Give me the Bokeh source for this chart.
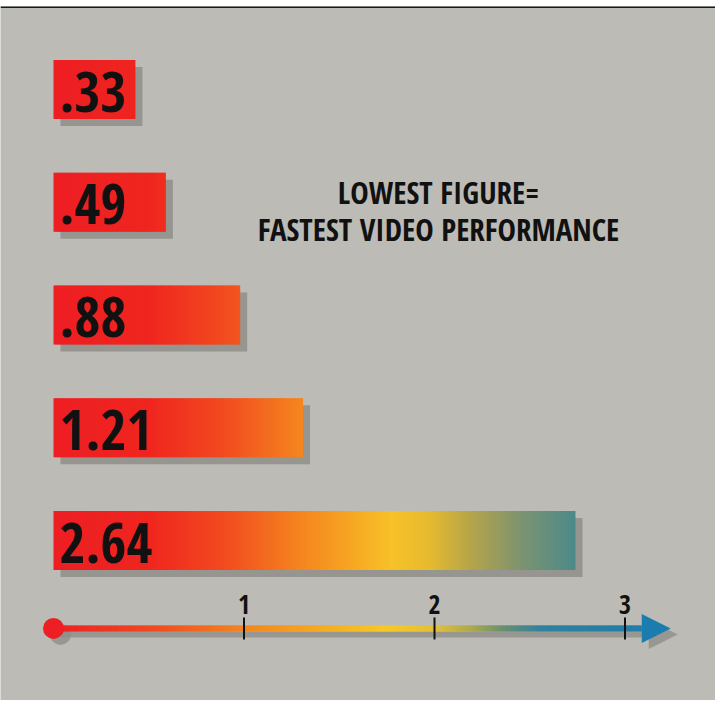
import numpy as np
from bokeh.plotting import figure
from bokeh.models import Range1d, ColumnDataSource, Label, Arrow, NormalHead, Span
from bokeh.core.properties import value
from bokeh.embed import file_html
from bokeh.resources import INLINE

# ---- data ----
labels = [".33", ".49", ".88", "1.21", "2.64"]
values = [0.33, 0.49, 0.88, 1.21, 2.64]
tick_values = [1, 2, 3]
tick_labels = ["1", "2", "3"]
title_lines = ["LOWEST FIGURE=", "FASTEST VIDEO PERFORMANCE"]

# ---- style ----
W, H = 715, 700
TOP = 6                      # white strip above the panel
BG = "#bcbbb5"
SHADOW = "#8f8e89"
FONT_NAME = "'Open Sans Condensed', 'Roboto Condensed', sans-serif"
FONT = value(FONT_NAME)
UX = 190.5                   # px per x unit
UY = 112.75                  # px per row
ZERO_PX = 53
x0 = -ZERO_PX / UX
y_top = -(89 - TOP) / UY
BAR_H = 59 / UY
LABEL_PAD = 0.10
STEP = 0.01
SH_DX, SH_DY = 7 / UX, 7 / UY

bar_stops = [(0.0, "#ee1f24"), (0.5, "#f0261f"), (0.9, "#f24c1f"), (1.3, "#f5861f"),
             (1.78, "#f8c228"), (1.97, "#e6bb30"), (2.2, "#b4a44c"), (2.45, "#7e9470"),
             (2.75, "#4a8a8c")]
axis_stops = [(0.0, "#ee2124"), (0.5, "#f0481f"), (1.0, "#f3861f"), (1.5, "#f6b423"),
              (1.73, "#f8c826"), (2.0, "#e4c03a"), (2.2, "#a8a850"), (2.35, "#6a9070"),
              (2.56, "#2f82a0"), (3.3, "#1b7cae")]


def hx(c):
    return np.array([int(c[i:i + 2], 16) for i in (1, 3, 5)], dtype=float)


def grad(stops, x):
    xs = [s[0] for s in stops]
    cols = np.array([hx(s[1]) for s in stops])
    r = np.interp(x, xs, cols[:, 0]); g = np.interp(x, xs, cols[:, 1]); b = np.interp(x, xs, cols[:, 2])
    return ["#%02x%02x%02x" % (int(a), int(bb), int(cc)) for a, bb, cc in zip(r, g, b)]


p = figure(width=W, height=H, output_backend="svg", toolbar_location=None,
           x_range=Range1d(x0, x0 + W / UX), y_range=Range1d(y_top + (H - TOP) / UY, y_top),
           min_border=0, min_border_top=TOP, background_fill_color=BG, border_fill_color="white",
           outline_line_color=None)
p.axis.visible = False
p.grid.visible = False
p.add_layout(Span(location=y_top, dimension="width", line_color="#1a1a1a", line_width=3))

ys = list(range(len(values)))

# bar shadows
p.quad(left=[SH_DX] * len(values), right=[v + LABEL_PAD + SH_DX for v in values],
       top=[y - BAR_H / 2 + SH_DY for y in ys], bottom=[y + BAR_H / 2 + SH_DY for y in ys],
       fill_color=SHADOW, fill_alpha=0.85, line_color=None)

# gradient bars (thin slices)
L, R, T, B, C = [], [], [], [], []
for y, v in zip(ys, values):
    end = v + LABEL_PAD
    xs = np.arange(0, end, STEP)
    rights = np.minimum(xs + STEP * 1.6, end)
    L += list(xs); R += list(rights)
    T += [y - BAR_H / 2] * len(xs); B += [y + BAR_H / 2] * len(xs)
    C += grad(bar_stops, xs + STEP / 2)
p.quad(source=ColumnDataSource(dict(left=L, right=R, top=T, bottom=B, color=C)),
       left="left", right="right", top="top", bottom="bottom",
       fill_color="color", line_color=None)

# value labels
p.text(x=[0] * len(values), y=ys, text=labels, x_offset=6, y_offset=2, text_font=FONT,
       text_font_size="56px", text_font_style="bold", text_color="#111111",
       text_baseline="middle", text_align="left")

# ---- axis ----
axis_y = len(values) - 1 + 0.78
axis_end = max(tick_values) + 0.24
head = 29
base = axis_end - head / UX

# shadow of axis
p.segment(x0=[0 + SH_DX], x1=[base + SH_DX], y0=[axis_y + 6 / UY], y1=[axis_y + 6 / UY],
          line_color=SHADOW, line_width=6, line_alpha=0.8)
p.add_layout(Arrow(end=NormalHead(size=head, fill_color=SHADOW, line_color=None, fill_alpha=0.8),
                   x_start=base - 0.02 + SH_DX, y_start=axis_y + 6 / UY,
                   x_end=axis_end + SH_DX, y_end=axis_y + 6 / UY, line_alpha=0))
p.scatter(x=[SH_DX], y=[axis_y + 6 / UY], size=21, fill_color=SHADOW, line_color=None, fill_alpha=0.8)

ax = np.arange(0, base, STEP)
ax1 = np.minimum(ax + STEP * 1.6, base)
p.segment(source=ColumnDataSource(dict(x0=ax, x1=ax1, y0=[axis_y] * len(ax), y1=[axis_y] * len(ax),
                                       c=grad(axis_stops, ax))),
          x0="x0", x1="x1", y0="y0", y1="y1", line_color="c", line_width=6, line_cap="butt")
p.add_layout(Arrow(end=NormalHead(size=head, fill_color="#1b7cae", line_color=None),
                   x_start=base - 0.02, y_start=axis_y, x_end=axis_end, y_end=axis_y, line_alpha=0))
p.scatter(x=[0], y=[axis_y], size=21, fill_color="#ee1e25", line_color=None)

# ticks + tick labels
p.segment(x0=tick_values, x1=tick_values, y0=[axis_y - 11 / UY] * 3, y1=[axis_y + 11 / UY] * 3,
          line_color="#111111", line_width=2)
p.text(x=tick_values, y=[axis_y - 24 / UY] * 3, text=tick_labels, text_font=FONT,
       text_font_size="26px", text_font_style="bold", text_color="#111111",
       text_align="center", text_baseline="middle")

# title annotation
for i, t in enumerate(title_lines):
    p.add_layout(Label(x=438, y=H - 191 - i * 37, x_units="screen", y_units="screen", text=t,
                       text_font=FONT_NAME, text_font_size="31px", text_font_style="bold",
                       text_color="#111111", text_align="center", text_baseline="middle"))

open("out.html", "w").write(file_html(p, INLINE))
